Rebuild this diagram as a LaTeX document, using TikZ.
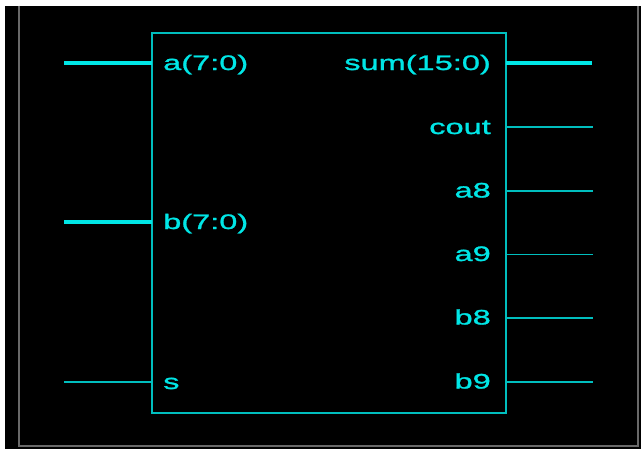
\documentclass[tikz,border=0pt]{standalone}
\usepackage{fontspec}
\newfontfamily\pinfont[FakeStretch=1.55,FakeBold=1.2]{Liberation Sans}
\definecolor{pincyan}{RGB}{0,230,230}
\definecolor{boxcyan}{RGB}{0,190,190}
\definecolor{framegray}{RGB}{105,105,105}
\begin{document}
\begin{tikzpicture}[x=1pt,y=-1pt,
  lbl/.style={text=pincyan, font=\pinfont\fontsize{21}{21}\selectfont, inner sep=0pt},
  bus/.style={draw=pincyan, line width=4pt},
  wire/.style={draw=boxcyan, line width=1.3pt},
]
\useasboundingbox (0,0) rectangle (641,448);
\fill[white] (-10,-10) rectangle (660,470);
\fill[black] (4.5,5.5) rectangle (660,470);
\draw[framegray, line width=2pt] (19,5.5) -- (19,446) -- (637.5,446) -- (637.5,5.5);
\node[draw=boxcyan, line width=1.5pt, minimum width=354pt, minimum height=380pt, anchor=north west, inner sep=0pt, outer sep=0pt] (blk) at (152,33) {};
% left pins
\coordinate (ain) at (64,63);
\coordinate (bin) at (64,222);
\coordinate (sin) at (64,382);
\draw[bus] (ain) -- (blk.west |- ain);
\draw[bus] (bin) -- (blk.west |- bin);
\draw[wire] (sin) -- (blk.west |- sin);
\node[lbl, anchor=base west] (alab) at (163,70) {a(7:0)};
\node[lbl, anchor=base west] (blab) at (163,229) {b(7:0)};
\node[lbl, anchor=base west] (slab) at (163,389) {s};
% right pins
\coordinate (sumout) at (592,63);
\coordinate (coutout) at (593,127);
\coordinate (aeout) at (593,191);
\coordinate (anout) at (593,254.5);
\coordinate (beout) at (593,318);
\coordinate (bnout) at (593,382);
\draw[bus] (blk.east |- sumout) -- (sumout);
\draw[wire] (blk.east |- coutout) -- (coutout);
\draw[wire] (blk.east |- aeout) -- (aeout);
\draw[wire] (blk.east |- anout) -- (anout);
\draw[wire] (blk.east |- beout) -- (beout);
\draw[wire] (blk.east |- bnout) -- (bnout);
\node[lbl, anchor=base east] (sumlab) at (491,70) {sum(15:0)};
\node[lbl, anchor=base east] (coutlab) at (491,134) {cout};
\node[lbl, anchor=base east] (aelab) at (491,197.5) {a8};
\node[lbl, anchor=base east] (anlab) at (491,261) {a9};
\node[lbl, anchor=base east] (belab) at (491,324.5) {b8};
\node[lbl, anchor=base east] (bnlab) at (491,388.5) {b9};
\end{tikzpicture}
\end{document}
